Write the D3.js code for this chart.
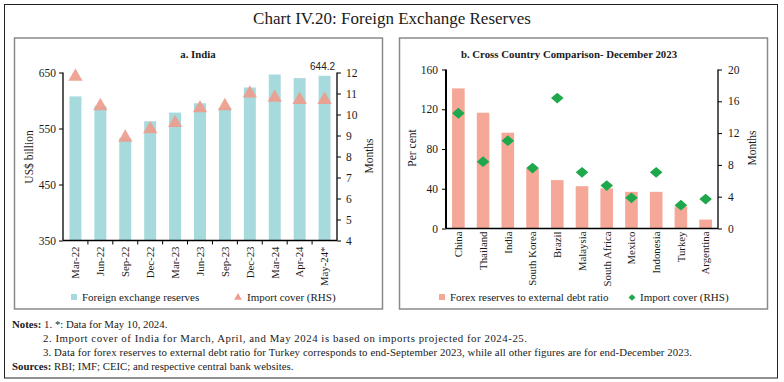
<!DOCTYPE html>
<html>
<head>
<meta charset="utf-8">
<script src="https://cdn.jsdelivr.net/npm/d3@7"></script>
<style>
  body { margin: 0; background: #fff; }
  svg { display: block; font-family: "Liberation Serif", "DejaVu Serif", serif; }
</style>
</head>
<body>
<svg id="chart" width="784" height="382"></svg>
<script>
// 数据 - panel a
const months = ['Mar-22', 'Jun-22', 'Sep-22', 'Dec-22', 'Mar-23', 'Jun-23', 'Sep-23', 'Dec-23', 'Mar-24', 'Apr-24', 'May-24*'];
const reserves = [607.3, 590.0, 532.7, 562.9, 578.4, 595.1, 586.9, 623.2, 646.4, 640.0, 644.2];
const importCover = [11.8, 10.4, 8.9, 9.3, 9.6, 10.3, 10.4, 11.0, 10.8, 10.7, 10.7];
const reserveTicks = [350, 450, 550, 650];
const coverTicks = [4, 5, 6, 7, 8, 9, 10, 11, 12];

// 数据 - panel b
const countries = ['China', 'Thailand', 'India', 'South Korea', 'Brazil', 'Malaysia', 'South Africa', 'Mexico', 'Indonesia', 'Turkey', 'Argentina'];
const debtRatio = [141, 116.5, 96.4, 60, 48.7, 42.6, 40.3, 36.9, 36.9, 22, 9];
const countryCover = [14.5, 8.4, 11.05, 7.6, 16.4, 7.06, 5.4, 3.86, 7.06, 2.94, 3.7];
const ratioTicks = [0, 40, 80, 120, 160];
const countryCoverTicks = [0, 4, 8, 12, 16, 20];

const notes = [
    '2.  Import cover of India for March, April, and May 2024 is based on imports projected for 2024-25.',
    '3.  Data for forex reserves to external debt ratio for Turkey corresponds to end-September 2023, while all other figures are for end-December 2023.'
];
const noteWidths = [484, 649];

const style = {
    teal: '#a7dadc',
    salmon: '#f5a898',
    triangle: '#ee9d8d',
    green: '#1ea84b',
    text: '#1a1a1a'
};

const svg = d3.select('#chart');

// 外框
svg.append('rect').attr('x', 4.5).attr('y', 4.5).attr('width', 773).attr('height', 373.5)
    .attr('fill', 'none').attr('stroke', '#222').attr('stroke-width', 1);

svg.append('text').attr('x', 392).attr('y', 23.5).attr('text-anchor', 'middle')
    .attr('font-size', 17).attr('fill', style.text)
    .text('Chart IV.20: Foreign Exchange Reserves');

// 面板边框
[14.5, 399.5].forEach(x => {
    svg.append('rect').attr('x', x).attr('y', 38).attr('width', 368).attr('height', 271)
        .attr('fill', 'none').attr('stroke', '#8a8a8a').attr('stroke-width', 1.5);
});

const diamondPath = 'M0,-5.4L6.3,0L0,5.4L-6.3,0Z';

function drawAxisLines(g, x0, x1, y0, y1, lw) {
    g.append('line').attr('x1', x0).attr('x2', x0).attr('y1', y0).attr('y2', y1)
        .attr('stroke', '#000').attr('stroke-width', lw);
    g.append('line').attr('x1', x1).attr('x2', x1).attr('y1', y0).attr('y2', y1)
        .attr('stroke', '#000').attr('stroke-width', 1.3);
    g.append('line').attr('x1', x0).attr('x2', x1).attr('y1', y1).attr('y2', y1)
        .attr('stroke', '#000').attr('stroke-width', 1.5);
}

function styleAxis(sel) {
    sel.select('.domain').remove();
    sel.selectAll('line').attr('stroke', '#000');
    sel.selectAll('text').attr('font-size', 11.5).attr('fill', style.text)
        .attr('font-family', '"Liberation Serif", serif');
}

// panel a
function drawIndia() {
    const g = svg.append('g');
    const left = 63, right = 337, top = 72.5, bottom = 240.5;

    const x = d3.scaleBand().domain(months).range([left, right]).paddingInner(0.52).paddingOuter(0.26);
    const y = d3.scaleLinear().domain([350, 650]).range([bottom, top]);
    const y2 = d3.scaleLinear().domain([4, 12]).range([bottom, top]);

    g.selectAll('.bar').data(months).enter().append('rect')
        .attr('x', d => x(d)).attr('width', x.bandwidth())
        .attr('y', (d, i) => y(reserves[i])).attr('height', (d, i) => bottom - y(reserves[i]))
        .attr('fill', style.teal);

    const tri = d3.symbol(d3.symbolTriangle).size(88);
    g.selectAll('.tri').data(months).enter().append('path')
        .attr('d', tri)
        .attr('transform', (d, i) => `translate(${x(d) + x.bandwidth() / 2},${y2(importCover[i])})`)
        .attr('fill', style.triangle).attr('opacity', 0.92);

    drawAxisLines(g, left, right, top, bottom, 1.3);

    g.append('g').attr('transform', `translate(${left},0)`)
        .call(d3.axisLeft(y).tickValues(reserveTicks).tickSize(4).tickPadding(3))
        .call(styleAxis);
    g.append('g').attr('transform', `translate(${right},0)`)
        .call(d3.axisRight(y2).tickValues(coverTicks).tickSize(4).tickPadding(5))
        .call(styleAxis);

    // 分类间刻度
    g.selectAll('.xt').data(d3.range(1, months.length)).enter().append('line')
        .attr('x1', i => left + i * (right - left) / months.length)
        .attr('x2', i => left + i * (right - left) / months.length)
        .attr('y1', bottom).attr('y2', bottom + 4).attr('stroke', '#000');

    g.selectAll('.xl').data(months).enter().append('text')
        .attr('transform', d => `translate(${x(d) + x.bandwidth() / 2},${bottom + 6}) rotate(-90)`)
        .attr('text-anchor', 'end').attr('dy', '0.35em')
        .attr('font-size', 10.8).attr('fill', style.text)
        .text(d => d);

    const last = months[months.length - 1];
    g.append('text').attr('x', x(last) + x.bandwidth() / 2 - 2).attr('y', y(reserves[reserves.length - 1]) - 6)
        .attr('text-anchor', 'middle').attr('font-family', '"Liberation Sans", Arial, sans-serif')
        .attr('font-size', 10).attr('fill', '#222')
        .text(reserves[reserves.length - 1].toFixed(1));

    g.append('text').attr('x', 198).attr('y', 58).attr('text-anchor', 'middle')
        .attr('font-size', 10.8).attr('font-weight', 'bold').attr('fill', style.text)
        .text('a. India');

    g.append('text').attr('transform', 'translate(33,157) rotate(-90)')
        .attr('text-anchor', 'middle').attr('font-size', 11.5).attr('fill', style.text)
        .text('US$ billion');
    g.append('text').attr('transform', 'translate(373,156) rotate(-90)')
        .attr('text-anchor', 'middle').attr('font-size', 11.5).attr('fill', style.text)
        .text('Months');

    // 图例
    g.append('rect').attr('x', 71).attr('y', 294).attr('width', 6).attr('height', 6).attr('fill', style.teal);
    g.append('text').attr('x', 82).attr('y', 300.5).attr('font-size', 11).attr('fill', style.text)
        .text('Foreign exchange reserves');
    g.append('path').attr('d', d3.symbol(d3.symbolTriangle).size(26))
        .attr('transform', 'translate(238,297.5)').attr('fill', style.triangle);
    g.append('text').attr('x', 247).attr('y', 300.5).attr('font-size', 11).attr('fill', style.text)
        .text('Import cover (RHS)');
}

// panel b
function drawCountries() {
    const g = svg.append('g');
    const left = 446, right = 718, top = 69.5, bottom = 228.5;

    const x = d3.scaleBand().domain(countries).range([left, right]).paddingInner(0.49).paddingOuter(0.245);
    const y = d3.scaleLinear().domain([0, 160]).range([bottom, top]);
    const y2 = d3.scaleLinear().domain([0, 20]).range([bottom, top]);

    g.selectAll('.bar').data(countries).enter().append('rect')
        .attr('x', d => x(d)).attr('width', x.bandwidth())
        .attr('y', (d, i) => y(debtRatio[i])).attr('height', (d, i) => bottom - y(debtRatio[i]))
        .attr('fill', style.salmon);

    g.selectAll('.dia').data(countries).enter().append('path')
        .attr('d', diamondPath)
        .attr('transform', (d, i) => `translate(${x(d) + x.bandwidth() / 2},${y2(countryCover[i])})`)
        .attr('fill', style.green);

    drawAxisLines(g, left, right, top, bottom, 2);

    g.append('g').attr('transform', `translate(${left},0)`)
        .call(d3.axisLeft(y).tickValues(ratioTicks).tickSize(4).tickPadding(4))
        .call(styleAxis);
    g.append('g').attr('transform', `translate(${right},0)`)
        .call(d3.axisRight(y2).tickValues(countryCoverTicks).tickSize(4).tickPadding(6))
        .call(styleAxis);

    g.selectAll('.xl').data(countries).enter().append('text')
        .attr('transform', d => `translate(${x(d) + x.bandwidth() / 2},${bottom + 3}) rotate(-90)`)
        .attr('text-anchor', 'end').attr('dy', '0.35em')
        .attr('font-size', 10.8).attr('fill', style.text)
        .text(d => d);

    g.append('text').attr('x', 569).attr('y', 58).attr('text-anchor', 'middle')
        .attr('font-size', 10.8).attr('font-weight', 'bold').attr('fill', style.text)
        .text('b. Cross Country Comparison- December 2023');

    g.append('text').attr('transform', 'translate(416,148) rotate(-90)')
        .attr('text-anchor', 'middle').attr('font-size', 11.5).attr('fill', style.text)
        .text('Per cent');
    g.append('text').attr('transform', 'translate(756,148) rotate(-90)')
        .attr('text-anchor', 'middle').attr('font-size', 11.5).attr('fill', style.text)
        .text('Months');

    g.append('rect').attr('x', 439).attr('y', 294).attr('width', 6).attr('height', 6).attr('fill', style.salmon);
    g.append('text').attr('x', 450).attr('y', 300.5).attr('font-size', 11).attr('fill', style.text)
        .text('Forex reserves to external debt ratio');
    g.append('path').attr('d', 'M0,-3.2L3.5,0L0,3.2L-3.5,0Z')
        .attr('transform', 'translate(632,297.5)').attr('fill', style.green);
    g.append('text').attr('x', 640).attr('y', 300.5).attr('font-size', 11).attr('fill', style.text)
        .text('Import cover (RHS)');
}

// 注释
function drawNotes() {
    const g = svg.append('g').attr('font-size', 10.8).attr('fill', style.text);
    const t1 = g.append('text').attr('x', 12).attr('y', 328);
    t1.append('tspan').attr('font-weight', 'bold').text('Notes:');
    t1.append('tspan').text(' 1. *: Data for May 10, 2024.');
    notes.forEach((n, i) => {
        g.append('text').attr('x', 43).attr('y', 342 + i * 14)
            .attr('textLength', noteWidths[i]).attr('lengthAdjust', 'spacing')
            .text(n);
    });
    const t4 = g.append('text').attr('x', 12).attr('y', 370);
    t4.append('tspan').attr('font-weight', 'bold').text('Sources:');
    t4.append('tspan').text(' RBI; IMF; CEIC; and respective central bank websites.');
}

drawIndia();
drawCountries();
drawNotes();
</script>
</body>
</html>
